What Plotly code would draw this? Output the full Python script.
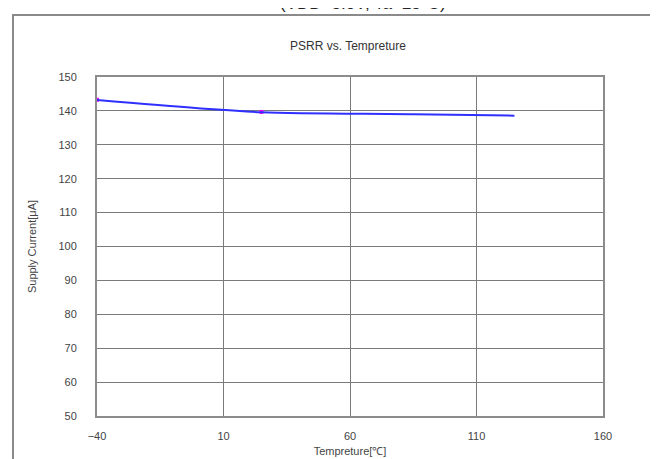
import plotly.graph_objects as go

# Data
temps = [-40, 0, 25, 85, 125]
current_blue = [143.2, 140.8, 139.6, 139.0, 138.6]
marker_temps = [-40, 25]
marker_current = [143.3, 139.7]

x_ticks = [-40, 10, 60, 110, 160]
y_ticks = [50, 60, 70, 80, 90, 100, 110, 120, 130, 140, 150]

title_text = "PSRR vs. Tempreture"
subtitle_text = "(VDD=5.0V, Ta=25°C)"
x_title = "Tempreture[℃]"
y_title = "Supply Current[μA]"

W, H = 658, 459
L, R, T, B = 89, 63, 69, 51
pw, ph = W - L - R, H - T - B

def px_to_paper_x(px):
    return (px - L) / pw

def px_to_paper_y(py):
    return 1 + (T - py) / ph

font_family = "Liberation Sans, Arial, sans-serif"

fig = go.Figure()
fig.add_trace(go.Scatter(
    x=marker_temps, y=marker_current, mode="markers",
    marker=dict(color="#ff00ff", size=4, symbol="square"),
    showlegend=False, hoverinfo="skip"))
fig.add_trace(go.Scatter(
    x=temps, y=current_blue, mode="lines",
    line=dict(color="#2f2fff", width=2, shape="spline"),
    showlegend=False))

# Outer chart frame
fig.add_shape(type="rect", xref="paper", yref="paper",
              x0=px_to_paper_x(5), y0=px_to_paper_y(7),
              x1=px_to_paper_x(700), y1=px_to_paper_y(520),
              line=dict(color="#8a8a8a", width=2), layer="below")

fig.add_annotation(text=subtitle_text, xref="paper", yref="paper",
                   x=px_to_paper_x(355), y=px_to_paper_y(-5),
                   xanchor="center", yanchor="middle", showarrow=False,
                   font=dict(family=font_family, size=17, color="#222"))

fig.add_annotation(text=title_text, xref="paper", yref="paper",
                   x=px_to_paper_x(340), y=px_to_paper_y(38),
                   xanchor="center", yanchor="middle", showarrow=False,
                   font=dict(family=font_family, size=12, color="#333"))

fig.update_layout(
    width=W, height=H,
    margin=dict(l=L, r=R, t=T, b=B, pad=0),
    paper_bgcolor="white", plot_bgcolor="white",
    font=dict(family=font_family, size=11, color="#444"),
    xaxis=dict(range=[-40, 160], tickvals=x_ticks, ticktext=[str(v).replace("-", "−") for v in x_ticks],
               showgrid=True, gridcolor="#7a7a7a", gridwidth=1,
               showline=True, linecolor="#8c8c8c", linewidth=2, mirror=True,
               zeroline=False, ticks="", ticklabelstandoff=9,
               title=dict(text=x_title, font=dict(size=11, color="#444"), standoff=6)),
    yaxis=dict(range=[50, 150], tickvals=y_ticks,
               showgrid=True, gridcolor="#7a7a7a", gridwidth=1,
               showline=True, linecolor="#8c8c8c", linewidth=2, mirror=True,
               zeroline=False, ticks="", ticklabelstandoff=16,
               title=dict(text=y_title, font=dict(size=11, color="#444"), standoff=20)),
)

fig.write_html("out.html")
